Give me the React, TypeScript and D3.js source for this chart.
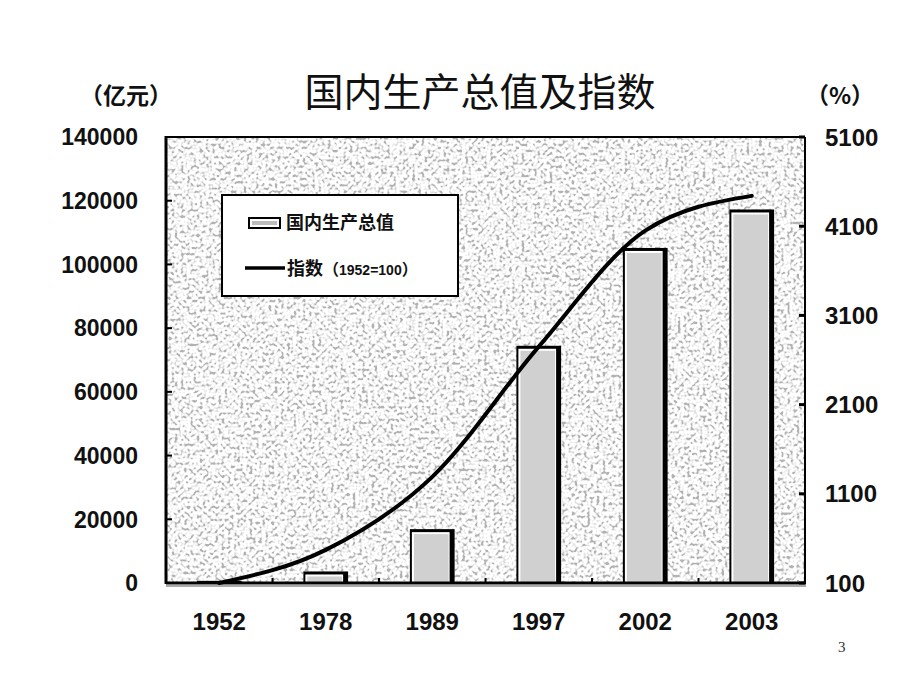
import React from "react";
import * as d3 from "d3";

const years = ["1952", "1978", "1989", "1997", "2002", "2003"];
const gdpValues = [679, 3624, 16909, 74463, 105172, 117252];
const indexValues = [100, 471, 1290, 2750, 4050, 4440];
const leftTicks = [0, 20000, 40000, 60000, 80000, 100000, 120000, 140000];
const rightTicks = [100, 1100, 2100, 3100, 4100, 5100];

const W = 920;
const H = 690;
const L = 166;
const R = 805;
const T = 137;
const B = 583;

const NUM = "'Liberation Sans', Arial, sans-serif";
const CJK = "'Noto Sans CJK SC', sans-serif";

export default function App() {
  const x = d3
    .scaleBand<string>()
    .domain(years)
    .range([L, R])
    .paddingInner(0.58)
    .paddingOuter(0.29);
  const yL = d3.scaleLinear().domain([0, 140000]).range([B, T]);
  const yR = d3.scaleLinear().domain([100, 5100]).range([B, T]);
  const bw = x.bandwidth();
  const cx = (y: string) => (x(y) as number) + bw / 2;

  const line = d3
    .line<number>()
    .x((_, i) => cx(years[i]))
    .y((d) => yR(d))
    .curve(d3.curveMonotoneX);

  const step = x.step();
  const boundaries = years.slice(1).map((y) => (x(y) as number) - (step - bw) / 2);
  const table = "0.45 0.6 0.72 0.8 0.87 0.93 1 1 1 1 1";

  return (
    <svg
      width={W}
      height={H}
      style={{ position: "absolute", left: 0, top: 0, background: "#fff" }}
    >
      <defs>
        <filter id="speckle" x="0" y="0" width="1" height="1" filterUnits="objectBoundingBox">
          <feTurbulence type="fractalNoise" baseFrequency="0.32" numOctaves="1" seed="11" result="t" />
          <feColorMatrix
            in="t"
            type="matrix"
            values="1 0 0 0 0  1 0 0 0 0  1 0 0 0 0  0 0 0 0 1"
            result="g"
          />
          <feComponentTransfer in="g" result="s">
            <feFuncR type="linear" slope="2.6" intercept="-0.8" />
            <feFuncG type="linear" slope="2.6" intercept="-0.8" />
            <feFuncB type="linear" slope="2.6" intercept="-0.8" />
          </feComponentTransfer>
          <feComponentTransfer in="s">
            <feFuncR type="discrete" tableValues={table} />
            <feFuncG type="discrete" tableValues={table} />
            <feFuncB type="discrete" tableValues={table} />
          </feComponentTransfer>
        </filter>
      </defs>

      {/* titles */}
      <text x={480} y={106} textAnchor="middle" fontFamily={CJK} fontSize={39} fill="#111">
        国内生产总值及指数
      </text>
      <text x={126} y={104} textAnchor="middle" fontFamily={CJK} fontWeight={700} fontSize={23} fill="#111">
        （亿元）
      </text>
      <text x={840} y={104} textAnchor="middle" fontFamily={CJK} fontWeight={700} fontSize={23} fill="#111">
        （%）
      </text>

      {/* plot background */}
      <rect x={L} y={T} width={R - L} height={B - T} fill="#fff" filter="url(#speckle)" />

      {/* bars */}
      {years.map((yr, i) => {
        const x0 = x(yr) as number;
        const top = yL(gdpValues[i]);
        const h = B - top;
        return (
          <g key={yr}>
            <rect x={x0} y={top} width={bw} height={h} fill="#000" />
            {h > 6 && (
              <rect x={x0 + 2} y={top + 3} width={bw - 7} height={h - 3} fill="#fff" />
            )}
            {h > 8 && (
              <rect x={x0 + 4} y={top + 5} width={bw - 10} height={h - 5} fill="#d0d0d0" />
            )}
          </g>
        );
      })}

      {/* index line */}
      <path d={line(indexValues) || ""} fill="none" stroke="#000" strokeWidth={4} strokeLinecap="round" />

      {/* frame */}
      <line x1={L} x2={R} y1={T} y2={T} stroke="#000" strokeWidth={2} />
      <line x1={R} x2={R} y1={T} y2={B} stroke="#000" strokeWidth={2} />
      <line x1={L} x2={L} y1={T - 1} y2={B + 1} stroke="#000" strokeWidth={3} />
      <line x1={L} x2={R + 1} y1={B} y2={B} stroke="#000" strokeWidth={3} />
      <line x1={L} x2={R + 1} y1={B + 3} y2={B + 3} stroke="#aaa" strokeWidth={2} />

      {/* left axis */}
      {leftTicks.map((t) => (
        <g key={"l" + t}>
          <line x1={L} x2={L + 6} y1={yL(t)} y2={yL(t)} stroke="#000" strokeWidth={2} />
          <text
            x={138}
            y={yL(t)}
            dy="0.36em"
            textAnchor="end"
            fontFamily={NUM}
            fontWeight={700}
            fontSize={23}
            fill="#111"
          >
            {t}
          </text>
        </g>
      ))}

      {/* right axis */}
      {rightTicks.map((t) => (
        <g key={"r" + t}>
          <line x1={R - 6} x2={R} y1={yR(t)} y2={yR(t)} stroke="#000" strokeWidth={3} />
          <text
            x={825}
            y={yR(t)}
            dy="0.36em"
            textAnchor="start"
            fontFamily={NUM}
            fontWeight={700}
            fontSize={24}
            fill="#111"
          >
            {t}
          </text>
        </g>
      ))}

      {/* bottom axis */}
      {boundaries.map((b, i) => (
        <line key={"b" + i} x1={b} x2={b} y1={B} y2={B - 5} stroke="#000" strokeWidth={2} />
      ))}
      {years.map((yr) => (
        <text
          key={"x" + yr}
          x={cx(yr)}
          y={630}
          textAnchor="middle"
          fontFamily={NUM}
          fontWeight={700}
          fontSize={24}
          fill="#111"
        >
          {yr}
        </text>
      ))}

      {/* legend */}
      <rect x={222} y={195} width={236} height={101} fill="#fff" stroke="#000" strokeWidth={2} />
      <rect x={248} y={217} width={33} height={12} fill="#000" />
      <rect x={250} y={219} width={29} height={8} fill="#fff" />
      <rect x={252} y={221} width={25} height={4} fill="#bdbdbd" />
      <text x={286} y={229} fontFamily={CJK} fontWeight={700} fontSize={18} fill="#111">
        国内生产总值
      </text>
      <line x1={245} x2={285} y1={268} y2={268} stroke="#000" strokeWidth={3.5} />
      <text x={287} y={275} fontFamily={CJK} fontWeight={700} fontSize={18} fill="#111">
        指数
        <tspan fontSize={16} fontFamily={CJK}>（</tspan>
        <tspan fontSize={14} fontFamily={NUM}>1952=100</tspan>
        <tspan fontSize={16} fontFamily={CJK}>）</tspan>
      </text>

      {/* page number */}
      <text x={838} y={652} fontFamily="'Liberation Serif', serif" fontSize={15} fill="#333">
        3
      </text>
    </svg>
  );
}
